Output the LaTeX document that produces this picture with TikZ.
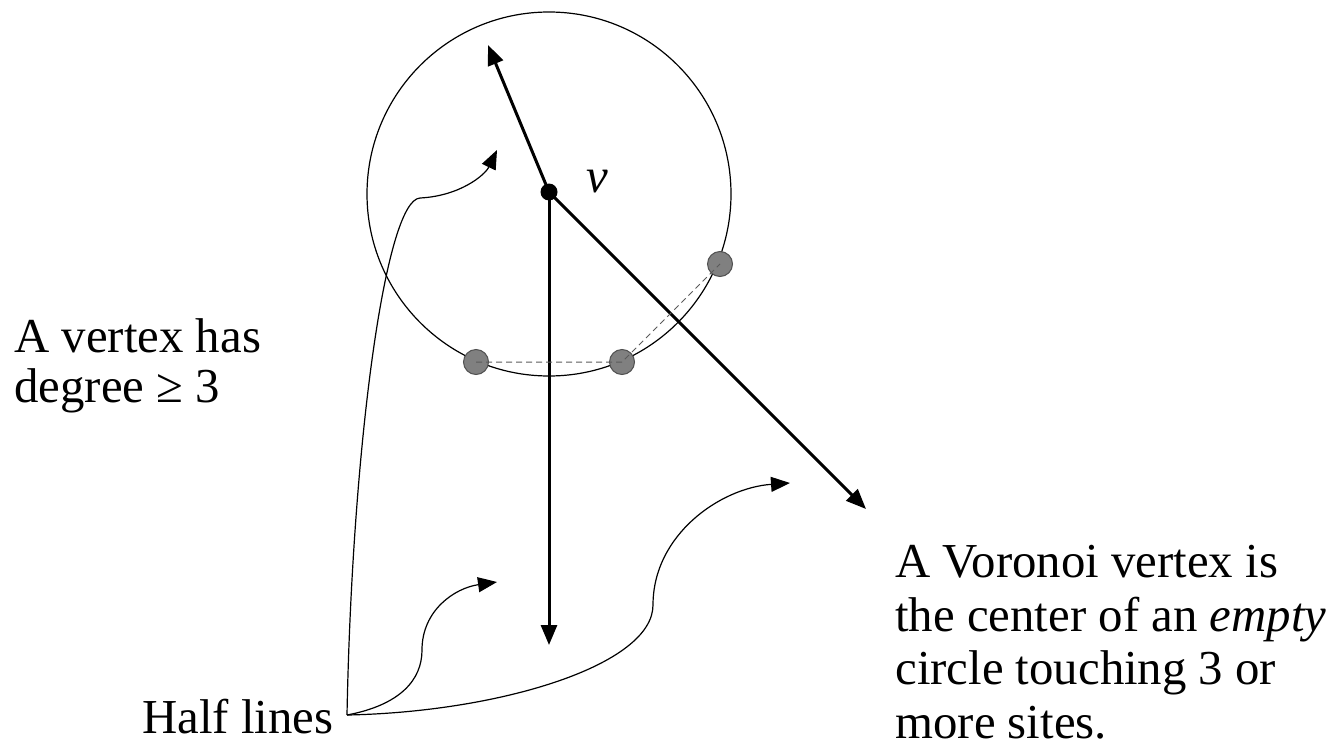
\documentclass[tikz,border=0pt]{standalone}
\usepackage{fontspec}
\setmainfont{Liberation Serif}
\usetikzlibrary{arrows.meta}
\begin{document}
\begin{tikzpicture}[x=0.5pt,y=-0.5pt,
  halfline/.style={line width=1.5pt,-{Triangle[length=10pt,width=8pt]}},
  pointer/.style={line width=0.6pt,-{Triangle[length=9.5pt,width=7.5pt]}},
  site/.style={circle,inner sep=0pt,minimum size=12.5pt,fill={rgb,255:red,128;green,128;blue,128},draw={rgb,255:red,80;green,80;blue,80},line width=0.5pt},
  chord/.style={dashed,dash pattern=on 3pt off 2pt,line width=0.5pt,draw={rgb,255:red,90;green,90;blue,90}},
  label/.style={font=\fontsize{24.4pt}{26.5pt}\selectfont,inner sep=0pt,align=left}
]
\useasboundingbox (0,0) rectangle (1333,755);
% empty circle
\node[draw,circle,inner sep=0pt,minimum size=182pt,line width=0.6pt] (emptycircle) at (549,194) {};
% vertex
\node[circle,fill,inner sep=0pt,minimum size=8.5pt] (v) at (549,192) {};
\node[label,anchor=base,font=\fontsize{24.4pt}{26.5pt}\selectfont\itshape] (vlab) at (597,192) {v};
% half lines
\coordinate (upend) at (488,45);
\coordinate (downend) at (549,645);
\coordinate (diagend) at (866,509);
\draw[halfline] (v.center) -- (upend);
\draw[halfline] (v.center) -- (downend);
\draw[halfline] (v.center) -- (diagend);
% sites
\node[site] (s1) at (476,362) {};
\node[site] (s2) at (622,362) {};
\node[site] (s3) at (720,264) {};
\draw[chord] (s1.center) -- (s2.center) -- (s3.center);
% labels
\node[label,anchor=base west] (deg1) at (14,352) {A vertex has};
\node[label,anchor=base west] (deg2) at (14,402) {degree ≥ 3};
\node[label,anchor=base west] (hl) at (142,733) {Half lines};
\node[label,anchor=base west] (vor1) at (895,577) {A Voronoi vertex is};
\node[label,anchor=base west] (vor2) at (895,631) {the center of an \textit{empty}};
\node[label,anchor=base west] (vor3) at (895,684) {circle touching 3 or};
\node[label,anchor=base west] (vor4) at (895,738) {more sites.};
% pointers
\coordinate (hs) at (347,715);
\coordinate (p1) at (497,150);
\coordinate (p2) at (497,582);
\coordinate (p3) at (790,483);
\draw[pointer] (hs) .. controls (352,450) and (385,200) .. (420,198) .. controls (460,196) and (485,175) .. (p1);
\draw[pointer] (hs) .. controls (400,705) and (422,680) .. (422,650) .. controls (422,610) and (455,588) .. (p2);
\draw[pointer] (hs) .. controls (500,712) and (653,665) .. (653,605) .. controls (653,535) and (720,488) .. (p3);
\end{tikzpicture}
\end{document}
